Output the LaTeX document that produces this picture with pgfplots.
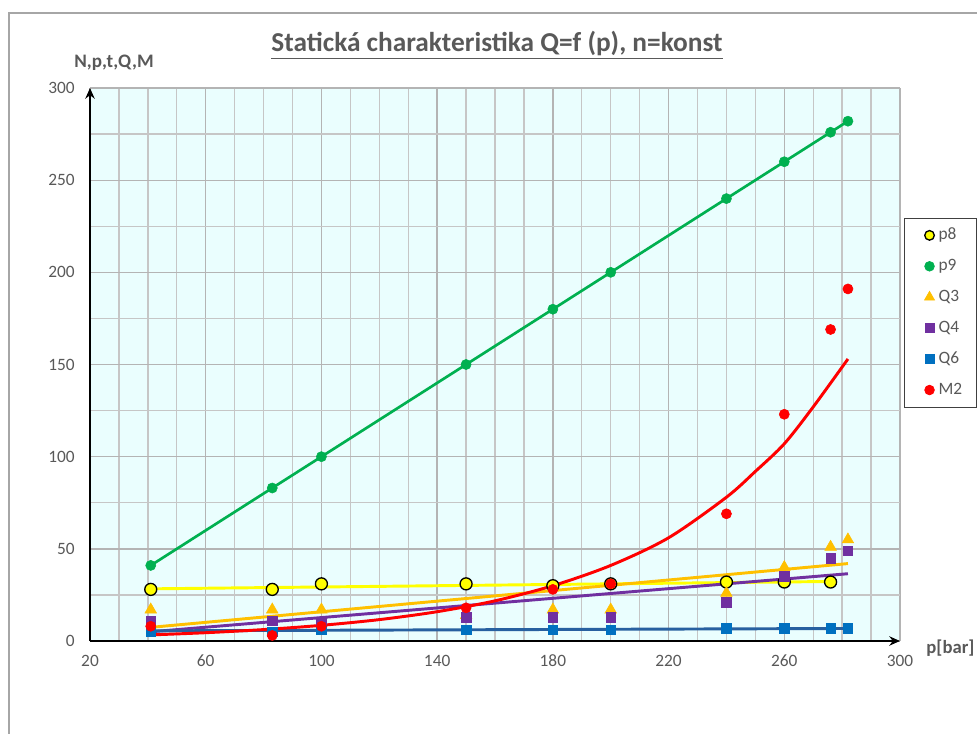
\documentclass[border=0pt]{standalone}
\usepackage{fontspec}
\setmainfont{Carlito}
\usepackage{pgfplots}
\pgfplotsset{compat=1.18}
\usetikzlibrary{arrows.meta}
\definecolor{txtgray}{RGB}{89,89,89}
\definecolor{framegray}{RGB}{166,166,166}
\definecolor{gridmaj}{RGB}{180,180,180}
\definecolor{gridmin}{RGB}{198,198,198}
\definecolor{bgcyan}{RGB}{234,254,254}
\definecolor{cgreen}{RGB}{0,176,80}
\definecolor{cyellow}{RGB}{255,255,0}
\definecolor{corange}{RGB}{255,192,0}
\definecolor{cpurple}{RGB}{112,48,160}
\definecolor{cblue}{RGB}{0,112,192}
\definecolor{cbluel}{RGB}{40,96,160}
\definecolor{cred}{RGB}{255,0,0}
\begin{document}
\begin{tikzpicture}
\path[use as bounding box] (0,0) rectangle (732.75pt,549.75pt);
\draw[framegray, line width=1.5pt] (6.75pt,-2pt) -- (6.75pt,540pt) -- (740pt,540pt);
\node[font=\fontsize{20.5}{22}\selectfont\bfseries, text=txtgray] at (372.75pt,516pt) {\underline{Statická charakteristika Q=f (p), n=konst}};
\node[anchor=west, font=\fontsize{14.3}{16}\selectfont\bfseries, text=txtgray] at (52.2pt,502.5pt) {N,p,t,Q,M};
\node[anchor=west, font=\fontsize{14}{16}\selectfont\bfseries, text=txtgray] at (691.3pt,63.75pt) {p[bar]};
\begin{axis}[
  at={(67.5pt,69pt)}, anchor=south west,
  width=607.5pt, height=414.75pt, scale only axis,
  xmin=20, xmax=300, ymin=0, ymax=300,
  xtick={20,60,...,300}, ytick={0,50,...,300},
  minor x tick num=3, minor y tick num=1,
  grid=both,
  major grid style={draw=gridmaj, line width=1pt},
  minor grid style={draw=gridmin, line width=1pt},
  axis x line=bottom, axis y line=left,
  axis line style={black, line width=1.5pt, -{Stealth[length=8pt,width=7pt]}},
  major tick length=0pt, minor tick length=0pt,
  tick style={draw=none},
  /pgf/number format/assume math mode=true,
  ticklabel style={font=\fontsize{13}{15}\selectfont, text=txtgray},
  xticklabel style={yshift=-7pt},
  yticklabel style={xshift=-8pt},
  axis background/.style={fill=bgcyan},
  legend style={at={(rel axis cs:1.005,0.765)}, anchor=north west,
    draw=black!75, line width=0.6pt, fill=white,
    font=\fontsize{13}{15}\selectfont, text=txtgray,
    row sep=7.7pt, inner xsep=9pt, inner ysep=5pt,
    nodes={inner sep=2pt, text height=9pt, text depth=2.5pt}},
  legend image code/.code={\path (-5pt,0pt) (9pt,0pt); \draw[#1] plot coordinates {(4.5pt,0pt)};},
  legend cell align=left,
]
% series markers
\addplot[only marks, mark=*, mark size=4.5pt, mark options={fill=cyellow, draw=black, line width=1pt}, legend image post style={mark size=3.6pt}] coordinates {
(41,28) (83,28) (100,31) (150,31) (180,30) (200,31) (240,32) (260,32) (276,32)};
\addlegendentry{p8}
\addplot[only marks, mark=*, mark size=3.8pt, mark options={fill=cgreen, draw=cgreen}, legend image post style={mark size=3.6pt}] coordinates {
(41,41) (83,83) (100,100) (150,150) (180,180) (200,200) (240,240) (260,260) (276,276) (282,282)};
\addlegendentry{p9}
\addplot[only marks, mark=triangle*, mark size=5pt, mark options={fill=corange, draw=corange}, legend image post style={mark size=4.3pt}] coordinates {
(41,17) (83,17) (100,17) (150,14) (180,17) (200,17) (240,26) (260,40) (276,51) (282,55)};
\addlegendentry{Q3}
\addplot[only marks, mark=square*, mark size=3.6pt, mark options={fill=cpurple, draw=cpurple}, legend image post style={mark size=3.4pt}] coordinates {
(41,11) (83,11) (100,10) (150,13) (180,13) (200,13) (240,21) (260,35) (276,45) (282,49)};
\addlegendentry{Q4}
\addplot[only marks, mark=square*, mark size=3.6pt, mark options={fill=cblue, draw=cblue}, legend image post style={mark size=3.4pt}] coordinates {
(41,5) (83,5) (100,6) (150,6) (180,6) (200,6) (240,7) (260,7) (276,7) (282,7)};
\addlegendentry{Q6}
\addplot[only marks, mark=*, mark size=3.8pt, mark options={fill=cred, draw=cred}, legend image post style={mark size=3.6pt}] coordinates {
(41,8) (83,3) (100,8) (150,18) (180,28) (200,31) (240,69) (260,123) (276,169) (282,191)};
\addlegendentry{M2}
% trendlines / connecting lines
\addplot[forget plot, cgreen, line width=2pt, no marks] coordinates {
(41,41) (83,83) (100,100) (150,150) (180,180) (200,200) (240,240) (260,260) (276,276) (282,282)};
\addplot[forget plot, cyellow, line width=2.2pt, no marks] coordinates {(41,28.3) (276,32.3)};
\addplot[forget plot, corange, line width=2.2pt, no marks] coordinates {(41,7.4) (282,42)};
\addplot[forget plot, cpurple, line width=2.2pt, no marks] coordinates {(41,5) (282,36.5)};
\addplot[forget plot, cbluel, line width=2.2pt, no marks] coordinates {(41,5.5) (282,6.8)};
\addplot[forget plot, cred, line width=2.2pt, no marks, smooth] coordinates {
(41,3.3) (60,4.5) (80,6.2) (100,8.5) (120,11.6) (140,15.9) (160,21.8) (180,30) (200,41) (220,56) (240,78) (250,92) (260,107) (270,127) (282,153)};
\end{axis}
\end{tikzpicture}
\end{document}
